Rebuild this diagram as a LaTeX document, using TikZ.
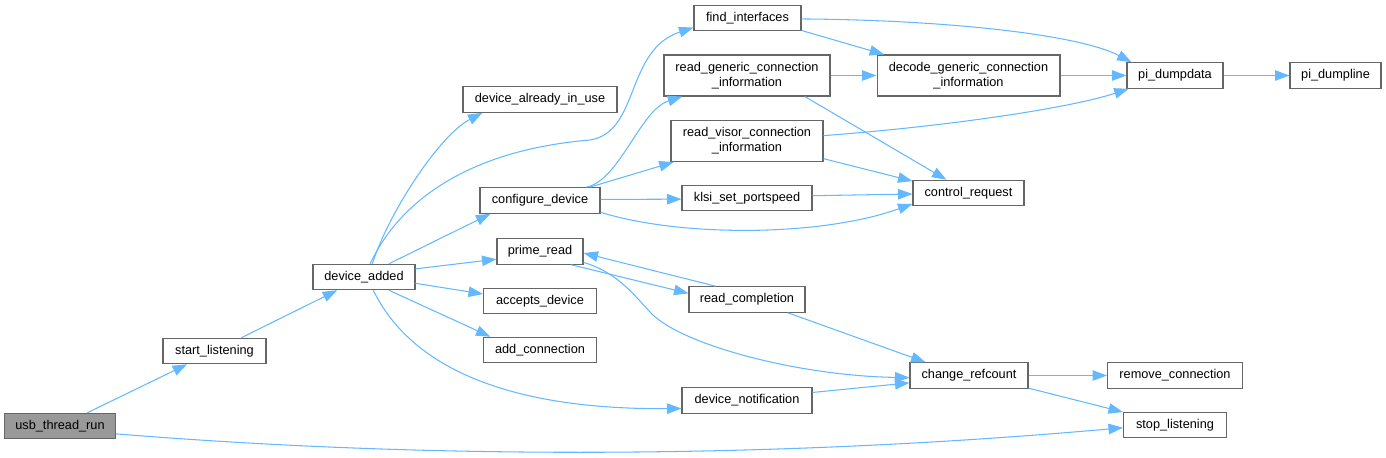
\documentclass[tikz,border=0pt]{standalone}
\usepackage{fontspec}
\setmainfont{Liberation Sans}
\usepackage{tikz}
\usetikzlibrary{arrows.meta}
\definecolor{EdgeBlue}{HTML}{63B8FF}
\definecolor{NodeEdge}{HTML}{666666}
\definecolor{RootFill}{HTML}{999999}

\begin{document}
\begin{tikzpicture}[x=0.02cm,y=-0.02cm,
    fn/.style={draw=NodeEdge,line width=0.6pt,fill=white,minimum height=0.51cm,
               inner sep=0pt,align=center,font=\fontsize{7.25}{8.4}\selectfont},
    fntwo/.style={fn,minimum height=0.82cm},
    root/.style={fn,fill=RootFill},
    call/.style={draw=EdgeBlue,line width=0.6pt,-{Triangle[length=2.9mm,width=2.1mm]}}]
  \useasboundingbox (0,0) rectangle (1386,457);
  % functions
  \node[root,minimum width=2.22cm] (usb)      at (60,426)    {usb\_thread\_run};
  \node[fn,minimum width=2.06cm]   (startl)   at (214.5,351) {start\_listening};
  \node[fn,minimum width=2.04cm]   (dadd)     at (364,277)   {device\_added};
  \node[fn,minimum width=3.08cm]   (dinuse)   at (540,99.5)  {device\_already\_in\_use};
  \node[fn,minimum width=2.40cm]   (config)   at (540,200.5) {configure\_device};
  \node[fn,minimum width=1.72cm]   (prime)    at (540,251.5) {prime\_read};
  \node[fn,minimum width=2.26cm]   (accepts)  at (540,301)   {accepts\_device};
  \node[fn,minimum width=2.26cm]   (addconn)  at (540,350)   {add\_connection};
  \node[fn,minimum width=2.14cm]   (findif)   at (747.5,18)  {find\_interfaces};
  \node[fntwo,minimum width=3.32cm] (rgeneric) at (747,75.5) {read\_generic\_connection\\\_information};
  \node[fntwo,minimum width=3.04cm] (rvisor)   at (747,141)  {read\_visor\_connection\\\_information};
  \node[fn,minimum width=2.60cm]   (klsi)     at (747,198)   {klsi\_set\_portspeed};
  \node[fn,minimum width=2.32cm]   (rcompl)   at (747,299.5) {read\_completion};
  \node[fn,minimum width=2.60cm]   (dnotif)   at (747,400.5) {device\_notification};
  \node[fntwo,minimum width=3.66cm] (decode)  at (968.5,75.5) {decode\_generic\_connection\\\_information};
  \node[fn,minimum width=2.22cm]   (ctrlreq)  at (968.5,193) {control\_request};
  \node[fn,minimum width=2.36cm]   (chref)    at (969,375.5) {change\_refcount};
  \node[fn,minimum width=1.92cm]   (dumpdata) at (1175,75.5) {pi\_dumpdata};
  \node[fn,minimum width=2.70cm]   (rmconn)   at (1175,375.5) {remove\_connection};
  \node[fn,minimum width=2.06cm]   (stopl)    at (1175,425)  {stop\_listening};
  \node[fn,minimum width=1.82cm]   (dumpline) at (1335.5,75.5) {pi\_dumpline};
  % calls
  \draw[call] (usb) -- (startl);
  \draw[call] (usb.-8) .. controls (500,465) and (850,452) .. (stopl.183);
  \draw[call] (startl) -- (dadd);
  \draw[call] (dadd.58) .. controls (390,210) and (440,135) .. (dinuse.193);
  \draw[call] (dadd.65) .. controls (400,200) and (470,150) .. (590,140)
              .. controls (640,132) and (625,50) .. (findif.190);
  \draw[call] (dadd.28) -- (config.195);
  \draw[call] (dadd.9) -- (prime.190);
  \draw[call] (dadd.-7) -- (accepts.173);
  \draw[call] (dadd.-28) -- (addconn.165);
  \draw[call] (dadd.-55) .. controls (400,345) and (470,410) .. (dnotif.187);
  \draw[call] (config.16) .. controls (620,180) and (640,110) .. (rgeneric.198);
  \draw[call] (config.15) -- (rvisor.196);
  \draw[call] (config.1) -- (klsi.181);
  \draw[call] (config.-11) .. controls (680,237) and (820,237) .. (ctrlreq.191);
  \draw[call] (rgeneric) -- (decode);
  \draw[call] (rgeneric.-20) -- (ctrlreq.149);
  \draw[call] (findif.-13) -- (decode.166);
  \draw[call] (findif.-1) .. controls (950,20) and (1080,35) .. (dumpdata.163);
  \draw[call] (decode) -- (dumpdata);
  \draw[call] (rvisor.4) .. controls (950,126) and (1070,108) .. (dumpdata.196);
  \draw[call] (rvisor.-13) -- (ctrlreq.168);
  \draw[call] (klsi.2) -- (ctrlreq.181);
  \draw[call] (dumpdata) -- (dumpline);
  \draw[call] (prime.-23) -- (rcompl.174);
  \draw[call] (rcompl.157) -- (prime.-2);
  \draw[call] (prime.-14) .. controls (615,272) and (630,290) .. (650,312)
              .. controls (680,345) and (800,376) .. (chref.182);
  \draw[call] (rcompl.-18) -- (chref.163);
  \draw[call] (dnotif.7) -- (chref.187);
  \draw[call] (chref) -- (rmconn);
  \draw[call] (chref.-12) -- (stopl.166);
\end{tikzpicture}
\end{document}
